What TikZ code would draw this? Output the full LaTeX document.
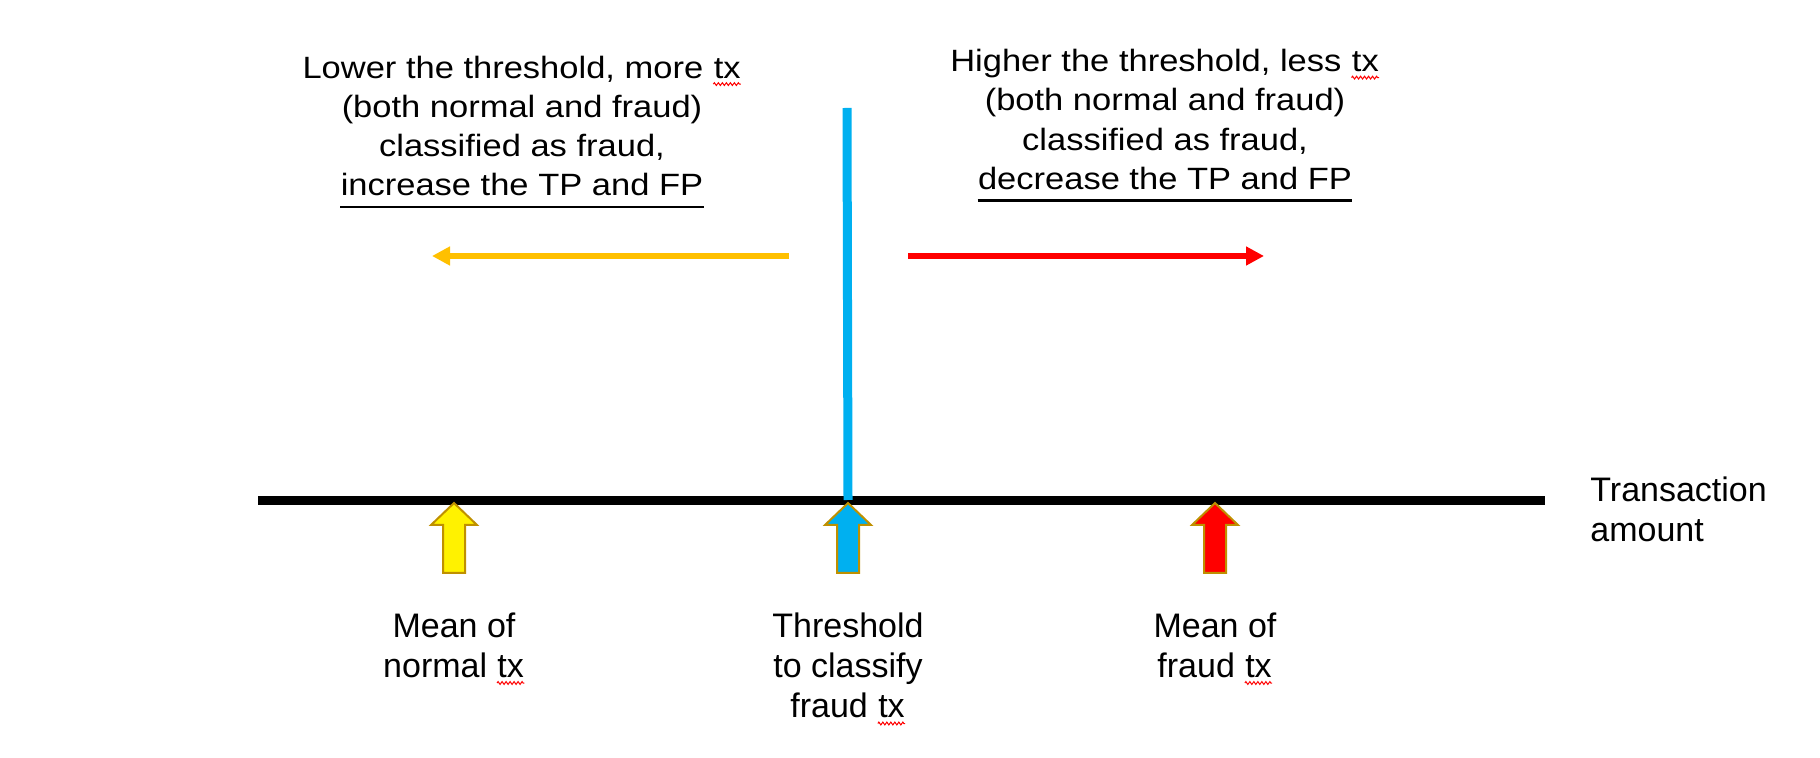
\documentclass[tikz,border=0pt]{standalone}
\usepackage{fontspec}
\setmainfont{Liberation Sans}
\newfontfamily\widesans{Liberation Sans}[FakeStretch=1.12]
\usepackage{tikz}
\usetikzlibrary{positioning,arrows.meta,decorations.pathmorphing}
\usepackage{xcolor}
\definecolor{txblue}{HTML}{00B0F0}
\definecolor{txorange}{HTML}{FFC000}
\definecolor{txgold}{HTML}{BF9000}

\tikzset{
  toplabel/.style={font=\widesans\fontsize{15.4}{19.65}\selectfont, align=center, anchor=base, inner sep=0pt},
  botlabel/.style={font=\fontsize{17}{20}\selectfont, align=center, anchor=base, inner sep=0pt},
  blockarrow/.style={draw=txgold, line width=1pt},
  dirarrow/.style={line width=2.7pt, -{Triangle[length=9pt,width=9pt]}}
}
\newcommand{\spellmark}[1]{\tikz[baseline=(sm.base)]{\node[inner sep=0pt] (sm) {#1};
  \draw[red, line width=0.5pt, decorate, decoration={zigzag, segment length=2pt, amplitude=0.7pt}]
    ([yshift=-3pt]sm.base west) -- ([yshift=-3pt]sm.base east);}}
\newcommand{\underlined}[1]{\tikz[baseline=(ul.base)]{\node[inner sep=0pt] (ul) {#1};
  \draw[line width=1.3pt] ([yshift=-5.5pt]ul.base west) -- ([yshift=-5.5pt]ul.base east);}}

\begin{document}
\begin{tikzpicture}[x=0.5pt, y=-0.5pt]
				\useasboundingbox (0,0) rectangle (1820,758);
				% axis and threshold
				\coordinate (axl) at (258,500.5);
				\coordinate (axr) at (1545,500.5);
				\coordinate (thtop) at (847,108);
				\coordinate (thbot) at (848,500);
				\draw [black, line width=4.5pt] (axl) -- (axr);
				\draw [txblue, line width=4.5pt] (thtop) -- (thbot);
				% direction arrows
				\coordinate (lowstart) at (789,256);
				\coordinate (lowend) at (432,256);
				\coordinate (highstart) at (908,256);
				\coordinate (highend) at (1264,256);
				\draw [dirarrow, txorange] (lowstart) -- (lowend);
				\draw [dirarrow, red] (highstart) -- (highend);
				% block arrows under the axis
				\foreach \cx/\col in {454/yellow, 848/txblue, 1215/red}
					\filldraw [blockarrow, fill=\col] (\cx,503) -- ++(23,22) -- ++(-12,0) -- ++(0,48)
						-- ++(-22,0) -- ++(0,-48) -- ++(-12,0) -- cycle;
				% labels (anchored at the baseline of the last line)
				\node [toplabel] (lowtext) at (522,196) {Lower the threshold, more \spellmark{tx}\\(both normal and fraud)\\classified as fraud,\\\underlined{increase the TP and FP}};
				\node [toplabel] (hightext) at (1165,189.5) {Higher the threshold, less \spellmark{tx}\\(both normal and fraud)\\classified as fraud,\\\underlined{decrease the TP and FP}};
				\node [botlabel] (meannormal) at (454,677) {Mean of\\normal \spellmark{tx}};
				\node [botlabel] (thresh) at (848,717.5) {Threshold\\to classify\\fraud \spellmark{tx}};
				\node [botlabel] (meanfraud) at (1215,677) {Mean of\\fraud \spellmark{tx}};
				\node [botlabel, align=left, anchor=base west] (amount) at (1590,541.7) {Transaction\\amount};
			\end{tikzpicture}
\end{document}
